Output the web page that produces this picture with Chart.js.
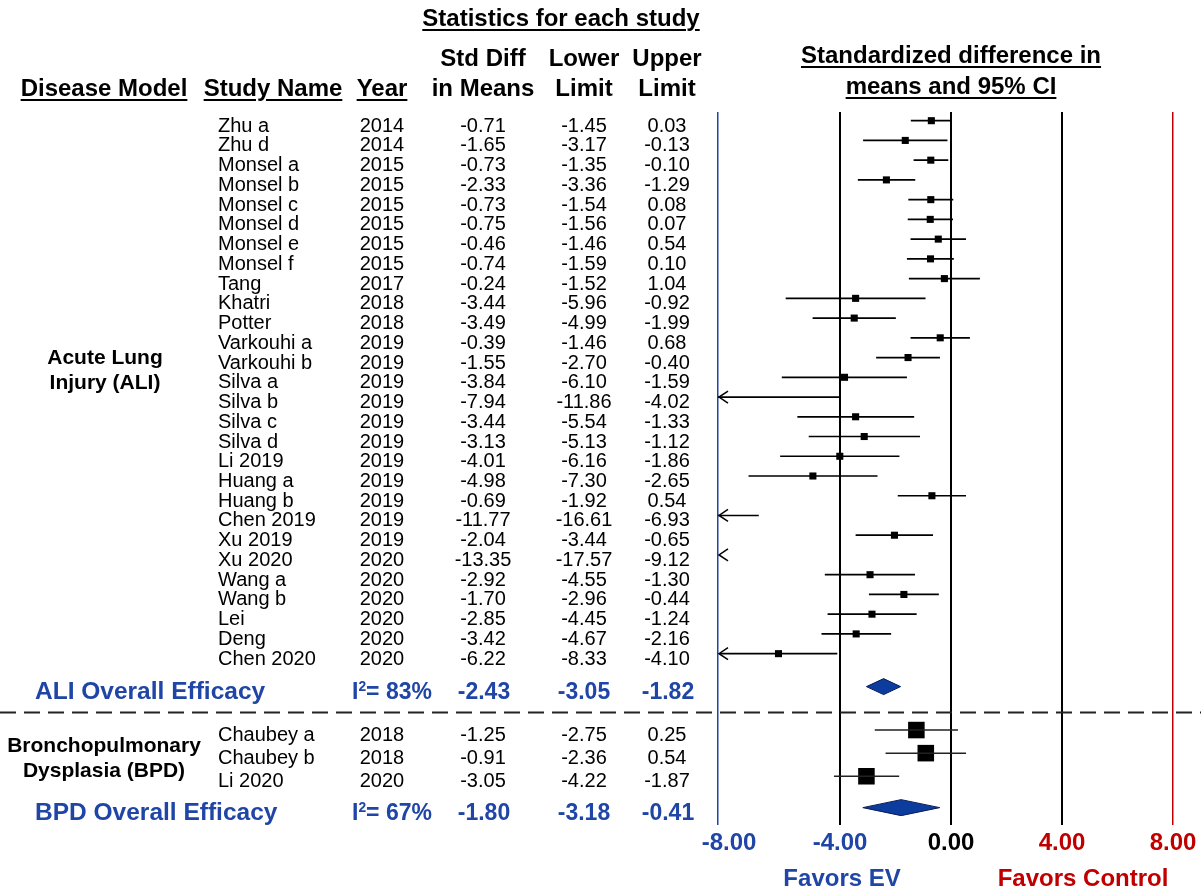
<!DOCTYPE html>
<html>
<head>
<meta charset="utf-8">
<script src="https://cdn.jsdelivr.net/npm/chart.js@4.4.1/dist/chart.umd.min.js"></script>
<style>
  body { margin: 0; background: #fff; font-family: "Liberation Sans", Arial, sans-serif; }
  #wrap { position: relative; width: 1201px; height: 894px; overflow: hidden; }
  #forest { position: absolute; left: 0; top: 0; }
  .t { position: absolute; white-space: nowrap; line-height: 1; color: #000; }
  .hd { font-weight: bold; font-size: 24px; }
  .u { text-decoration: underline; text-decoration-thickness: 2px; text-underline-offset: 3px; }
  .row { font-size: 20px; }
  .sum { font-weight: bold; font-size: 23px; color: #1f45a6; }
  .sumlab { font-size: 24.5px; }
  .grp { font-weight: bold; font-size: 21px; text-align: center; line-height: 25px; }
  .fav { font-weight: bold; font-size: 24px; }
  sup { font-size: 60%; vertical-align: 0.55em; line-height: 0; }
</style>
</head>
<body>
<div id="wrap">
  <canvas id="forest" width="1201" height="894"></canvas>
</div>
<script>
// ---------- data ----------
const aliStudies = ["Zhu a", "Zhu d", "Monsel a", "Monsel b", "Monsel c", "Monsel d", "Monsel e", "Monsel f",
  "Tang", "Khatri", "Potter", "Varkouhi a", "Varkouhi b", "Silva a", "Silva b", "Silva c", "Silva d",
  "Li 2019", "Huang a", "Huang b", "Chen 2019", "Xu 2019", "Xu 2020", "Wang a", "Wang b", "Lei", "Deng", "Chen 2020"];
const aliYears = [2014, 2014, 2015, 2015, 2015, 2015, 2015, 2015, 2017, 2018, 2018, 2019, 2019, 2019, 2019, 2019, 2019,
  2019, 2019, 2019, 2019, 2019, 2020, 2020, 2020, 2020, 2020, 2020];
const aliSmd = [-0.71, -1.65, -0.73, -2.33, -0.73, -0.75, -0.46, -0.74, -0.24, -3.44, -3.49, -0.39, -1.55, -3.84, -7.94,
  -3.44, -3.13, -4.01, -4.98, -0.69, -11.77, -2.04, -13.35, -2.92, -1.70, -2.85, -3.42, -6.22];
const aliLower = [-1.45, -3.17, -1.35, -3.36, -1.54, -1.56, -1.46, -1.59, -1.52, -5.96, -4.99, -1.46, -2.70, -6.10, -11.86,
  -5.54, -5.13, -6.16, -7.30, -1.92, -16.61, -3.44, -17.57, -4.55, -2.96, -4.45, -4.67, -8.33];
const aliUpper = [0.03, -0.13, -0.10, -1.29, 0.08, 0.07, 0.54, 0.10, 1.04, -0.92, -1.99, 0.68, -0.40, -1.59, -4.02,
  -1.33, -1.12, -1.86, -2.65, 0.54, -6.93, -0.65, -9.12, -1.30, -0.44, -1.24, -2.16, -4.10];

const bpdStudies = ["Chaubey a", "Chaubey b", "Li 2020"];
const bpdYears = [2018, 2018, 2020];
const bpdSmd = [-1.25, -0.91, -3.05];
const bpdLower = [-2.75, -2.36, -4.22];
const bpdUpper = [0.25, 0.54, -1.87];

const overallLabels = ["ALI Overall Efficacy", "BPD Overall Efficacy"];
const overallI2 = [83, 67];
const overallSmd = [-2.43, -1.80];
const overallLower = [-3.05, -3.18];
const overallUpper = [-1.82, -0.41];

const xTicks = [-8, -4, 0, 4, 8];

// ---------- layout ----------
const BLUE = "#1f45a6";
const RED = "#c00000";
const X_MIN = -8.4, X_MAX = 8;
const ARROW_AT = -8;        // CI running past this gets an arrow
const HIDE_MARK_BELOW = -10; // point not drawn when CI is truncated this far

const nAli = aliStudies.length;
const aliRows = aliStudies.map((_, i) => i);
const aliSumRow = nAli - 1 + 1.67;
const sepRow = nAli - 1 + 2.94;
const bpdRows = bpdStudies.map((_, i) => sepRow + 0.93 + i * 1.17);
const bpdSumRow = bpdRows[bpdRows.length - 1] + 1.59;
const sumRows = [aliSumRow, bpdSumRow];

const fmt = v => v.toFixed(2);

function ciSegments(rows, lower, upper) {
  const pts = [];
  rows.forEach((r, i) => {
    pts.push({ x: lower[i], y: r }, { x: upper[i], y: r }, { x: null, y: null });
  });
  return pts;
}

function points(rows, vals) {
  return rows.map((r, i) => ({ x: vals[i], y: r }));
}

// diamonds, arrows and the dashed separator
const forestExtras = {
  id: "forestExtras",
  afterDatasetsDraw(chart) {
    const { ctx, chartArea, scales: { x, y } } = chart;
    ctx.save();

    // dashed separator between the two disease models
    const sy = Math.round(y.getPixelForValue(sepRow)) + 0.5;
    ctx.setLineDash([16, 8]);
    ctx.lineWidth = 2;
    ctx.strokeStyle = "#222";
    ctx.beginPath();
    ctx.moveTo(0, sy);
    ctx.lineTo(chart.width, sy);
    ctx.stroke();
    ctx.setLineDash([]);

    // arrows for truncated intervals
    ctx.lineWidth = 1.5;
    ctx.strokeStyle = "#000";
    aliRows.forEach((r, i) => {
      if (aliLower[i] >= ARROW_AT) return;
      const py = y.getPixelForValue(r);
      const px = chartArea.left + 1;
      ctx.beginPath();
      ctx.moveTo(px + 9, py - 6);
      ctx.lineTo(px, py);
      ctx.lineTo(px + 9, py + 6);
      ctx.stroke();
    });

    // summary diamonds
    sumRows.forEach((r, i) => {
      const py = y.getPixelForValue(r);
      const lo = x.getPixelForValue(overallLower[i]);
      const hi = x.getPixelForValue(overallUpper[i]);
      const mid = x.getPixelForValue(overallSmd[i]);
      ctx.beginPath();
      ctx.moveTo(lo, py);
      ctx.lineTo(mid, py - 8);
      ctx.lineTo(hi, py);
      ctx.lineTo(mid, py + 8);
      ctx.closePath();
      ctx.fillStyle = "#0b3c9e";
      ctx.fill();
      ctx.lineWidth = 1;
      ctx.strokeStyle = "#0a1d55";
      ctx.stroke();
    });
    ctx.restore();
  }
};

const chart = new Chart(document.getElementById("forest"), {
  type: "scatter",
  data: {
    datasets: [
      { data: ciSegments(aliRows, aliLower, aliUpper), showLine: true, borderColor: "#000", borderWidth: 1.7, pointRadius: 0 },
      { data: ciSegments(bpdRows, bpdLower, bpdUpper), showLine: true, borderColor: "#222", borderWidth: 1.5, pointRadius: 0 },
      {
        data: points(aliRows, aliSmd), pointStyle: "rect", backgroundColor: "#000", borderWidth: 0,
        pointRadius: c => aliLower[c.dataIndex] < HIDE_MARK_BELOW ? 0 : 5
      },
      { data: points(bpdRows, bpdSmd), pointStyle: "rect", backgroundColor: "#000", borderWidth: 0, pointRadius: 11.7 }
    ]
  },
  options: {
    responsive: false,
    animation: false,
    events: [],
    layout: { padding: { left: 718, right: 28, top: 112, bottom: 29 } },
    plugins: { legend: { display: false }, tooltip: { enabled: false } },
    scales: {
      x: {
        type: "linear",
        min: X_MIN,
        max: X_MAX,
        afterBuildTicks: scale => { scale.ticks = [X_MIN, ...xTicks].map(v => ({ value: v })); },
        afterFit: scale => { scale.height = 40; },
        border: { display: false },
        grid: {
          drawTicks: false,
          color: c => {
            const v = c.tick.value;
            if (v === X_MIN) return BLUE;
            if (v === 8) return RED;
            if (v === -8) return "rgba(0,0,0,0)";
            return "#000";
          },
          lineWidth: c => (c.tick.value === X_MIN || c.tick.value === 8) ? 1.5 : 2
        },
        ticks: {
          autoSkip: false,
          maxRotation: 0,
          padding: 4,
          font: { family: "Liberation Sans", weight: "bold", size: 24 },
          color: c => c.tick.value < 0 ? BLUE : (c.tick.value > 0 ? RED : "#000"),
          callback: v => xTicks.includes(v) ? fmt(v) : ""
        }
      },
      y: {
        type: "linear",
        display: false,
        reverse: true,
        min: -0.44,
        max: 35.68
      }
    }
  },
  plugins: [forestExtras]
});

// ---------- table text ----------
const wrap = document.getElementById("wrap");

function addText(html, x, y, cls, align) {
  const d = document.createElement("div");
  d.className = "t " + cls;
  d.innerHTML = html;
  d.style.left = x + "px";
  d.style.top = y + "px";
  d.style.transform = align === "left" ? "translate(0,-50%)" : "translate(-50%,-50%)";
  wrap.appendChild(d);
  return d;
}

// headers
addText("Statistics for each study", 561, 18, "hd u", "center");
addText("Std Diff", 483, 58, "hd", "center");
addText("in Means", 483, 88, "hd", "center");
addText("Lower", 584, 58, "hd", "center");
addText("Limit", 584, 88, "hd", "center");
addText("Upper", 667, 58, "hd", "center");
addText("Limit", 667, 88, "hd", "center");
addText("Disease Model", 104, 88, "hd u", "center");
addText("Study Name", 273, 88, "hd u", "center");
addText("Year", 382, 88, "hd u", "center");
addText("Standardized difference in", 951, 55, "hd u", "center");
addText("means and 95% CI", 951, 86, "hd u", "center");

const ys = chart.scales.y;
const xs = chart.scales.x;
const TXT_DY = 4;

function studyRows(rows, names, years, smd, lower, upper) {
  rows.forEach((r, i) => {
    const py = ys.getPixelForValue(r) + TXT_DY;
    addText(names[i], 218, py, "row", "left");
    addText(String(years[i]), 382, py, "row", "center");
    addText(fmt(smd[i]), 483, py, "row", "center");
    addText(fmt(lower[i]), 584, py, "row", "center");
    addText(fmt(upper[i]), 667, py, "row", "center");
  });
}
studyRows(aliRows, aliStudies, aliYears, aliSmd, aliLower, aliUpper);
studyRows(bpdRows, bpdStudies, bpdYears, bpdSmd, bpdLower, bpdUpper);

sumRows.forEach((r, i) => {
  const py = ys.getPixelForValue(r) + TXT_DY;
  addText(overallLabels[i], 35, py, "sum sumlab", "left");
  addText("I<sup>2</sup>= " + overallI2[i] + "%", 392, py, "sum", "center");
  addText(fmt(overallSmd[i]), 484, py, "sum", "center");
  addText(fmt(overallLower[i]), 584, py, "sum", "center");
  addText(fmt(overallUpper[i]), 668, py, "sum", "center");
});

// disease model group labels
const aliMid = (ys.getPixelForValue(aliRows[0]) + ys.getPixelForValue(aliRows[nAli - 1])) / 2 - 18;
addText("Acute Lung<br>Injury (ALI)", 105, aliMid, "grp", "center");
const bpdMid = (ys.getPixelForValue(bpdRows[0]) + ys.getPixelForValue(bpdRows[bpdRows.length - 1])) / 2 + 4;
addText("Bronchopulmonary<br>Dysplasia (BPD)", 104, bpdMid, "grp", "center");

// favours labels under the axis
const favY = 878;
addText("Favors EV", xs.getPixelForValue(-4) + 2, favY, "fav", "center").style.color = BLUE;
addText("Favors Control", xs.getPixelForValue(4) + 21, favY, "fav", "center").style.color = RED;
</script>
</body>
</html>
